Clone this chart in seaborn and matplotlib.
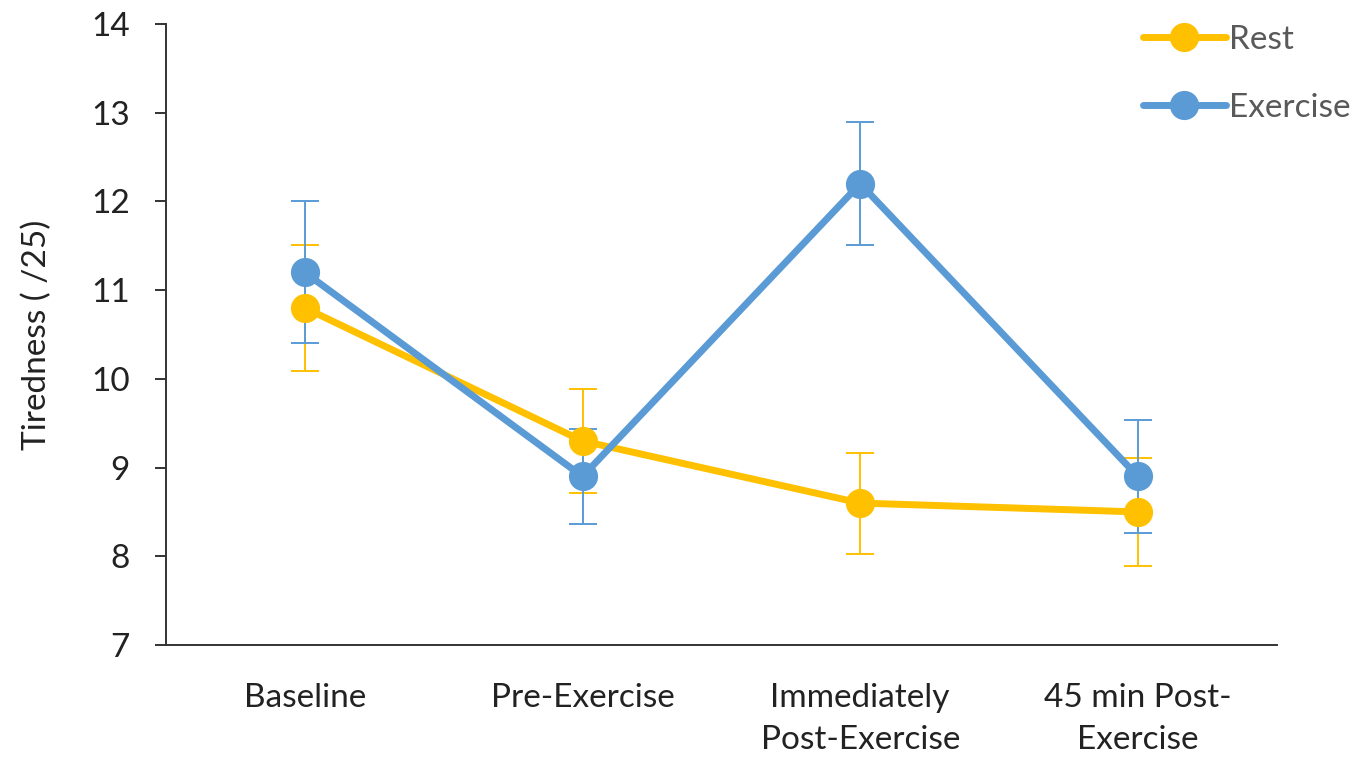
import pandas as pd
import seaborn as sns
import matplotlib.pyplot as plt
from matplotlib.lines import Line2D

# --- values
timepoints = ['Baseline', 'Pre-Exercise', 'Immediately\nPost-Exercise', '45 min Post-\nExercise']
rest_mean = [10.8, 9.3, 8.6, 8.5]
rest_err = [0.71, 0.59, 0.57, 0.61]
exercise_mean = [11.2, 8.9, 12.2, 8.9]
exercise_err = [0.80, 0.54, 0.69, 0.64]

conditions = ['Rest', 'Exercise']
colours = {'Rest': '#FFC000', 'Exercise': '#5B9BD5'}

df = pd.DataFrame({
    'timepoint': timepoints * 2,
    'tiredness': rest_mean + exercise_mean,
    'err': rest_err + exercise_err,
    'condition': ['Rest'] * 4 + ['Exercise'] * 4,
})

sns.set_style('white')
plt.rcParams['font.family'] = ['Lato', 'DejaVu Sans']

fig = plt.figure(figsize=(13.64, 7.6), dpi=100)
ax = fig.add_axes([0.1217, 0.1513, 0.8143, 0.8171])

# error bars first so the markers sit on top of them
for cond in conditions:
    sub = df[df['condition'] == cond]
    ax.errorbar(sub['timepoint'], sub['tiredness'], yerr=sub['err'], fmt='none',
                ecolor=colours[cond], elinewidth=1.4, capsize=10, capthick=1.4, zorder=1)

sns.lineplot(data=df, x='timepoint', y='tiredness', hue='condition', hue_order=conditions,
             palette=colours, sort=False, marker='o', markersize=21, markeredgewidth=0,
             linewidth=5, legend=False, ax=ax, zorder=2)

ax.set_xlim(-0.5, 3.5)
ax.set_ylim(7, 14)
ax.set_yticks(range(7, 15))
ax.set_xlabel('')
ax.set_ylabel('Tiredness ( /25)', fontsize=24, color='#222222', labelpad=28)

for side in ['top', 'right']:
    ax.spines[side].set_visible(False)
for side in ['left', 'bottom']:
    ax.spines[side].set_color('#333333')
    ax.spines[side].set_linewidth(1.4)

ax.tick_params(axis='y', left=True, length=8, width=1.4, color='#333333',
               labelsize=24, labelcolor='#222222', pad=18)
ax.tick_params(axis='x', bottom=False, labelsize=24, labelcolor='#222222', pad=24)
for lab in ax.get_xticklabels():
    lab.set_linespacing(1.5)

handles = [Line2D([], [], color=colours[c], linewidth=5, marker='o', markersize=21,
                  markeredgewidth=0) for c in conditions]
leg = ax.legend(handles, conditions, loc='upper right', bbox_to_anchor=(1.0, 0.985),
                bbox_transform=fig.transFigure, frameon=False, fontsize=24,
                handlelength=2.5, handletextpad=0.1, labelspacing=1.15,
                borderaxespad=0.2, borderpad=0.2)
for t in leg.get_texts():
    t.set_color('#595959')

fig.savefig('out.png', dpi=100)
